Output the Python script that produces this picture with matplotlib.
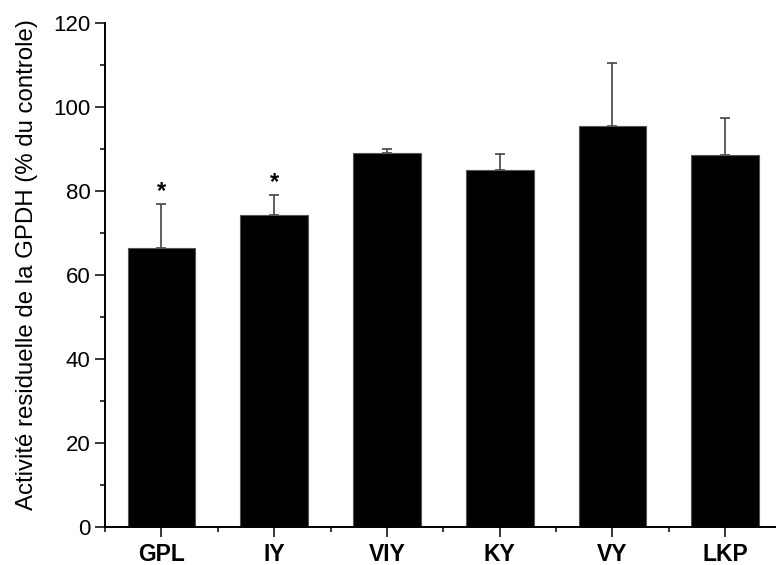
import matplotlib
matplotlib.use("Agg")
import matplotlib.pyplot as plt
from matplotlib.ticker import MultipleLocator, FixedLocator
import numpy as np

categories = ["GPL", "IY", "VIY", "KY", "VY", "LKP"]
values = [66.4, 74.3, 89.0, 85.1, 95.5, 88.6]
errors = [10.6, 4.8, 1.1, 3.7, 15.0, 8.7]
stars = ["*", "*", "", "", "", ""]

plt.rcParams['font.family'] = ['Liberation Sans', 'DejaVu Sans']

fig = plt.figure(figsize=(7.76, 5.65), dpi=100)
ax = fig.add_axes([105/776, 38/565, 1 - 105/776, 504/565])

x = np.arange(len(categories))
ax.bar(x, values, width=0.6, color='black', edgecolor='#555555', linewidth=0.8, zorder=2)
ax.errorbar(x, values, yerr=[np.zeros(len(errors)), errors], fmt='none',
            ecolor='#444444', elinewidth=1.2, capsize=3.6, capthick=1.2, zorder=1)
for xi, v, e, s in zip(x, values, errors, stars):
    if s:
        ax.text(xi, v + e + 0.2, s, ha='center', va='bottom', fontsize=17, fontweight='bold')

ax.set_xlim(-0.5, 5.45)
ax.set_ylim(0, 120)
ax.yaxis.set_major_locator(MultipleLocator(20))
ax.yaxis.set_minor_locator(MultipleLocator(10))
ax.set_xticks(x)
ax.set_xticklabels(categories, fontsize=16.5, fontweight='bold')
ax.xaxis.set_minor_locator(FixedLocator(np.arange(-0.5, 5.6, 1.0)))
ax.tick_params(axis='both', which='major', direction='out', length=7, width=1.1, labelsize=16)
ax.tick_params(axis='x', which='major', labelsize=16.5, pad=4.5)
ax.tick_params(axis='both', which='minor', direction='out', length=3.5, width=1.1)
for side in ['top', 'right']:
    ax.spines[side].set_visible(False)
for side in ['left', 'bottom']:
    ax.spines[side].set_linewidth(1.4)
ax.set_ylabel("Activité residuelle de la GPDH (% du controle)", fontsize=17.3)
ax.yaxis.set_label_coords(-0.1, 0.52)

fig.savefig("out.png", dpi=100)
